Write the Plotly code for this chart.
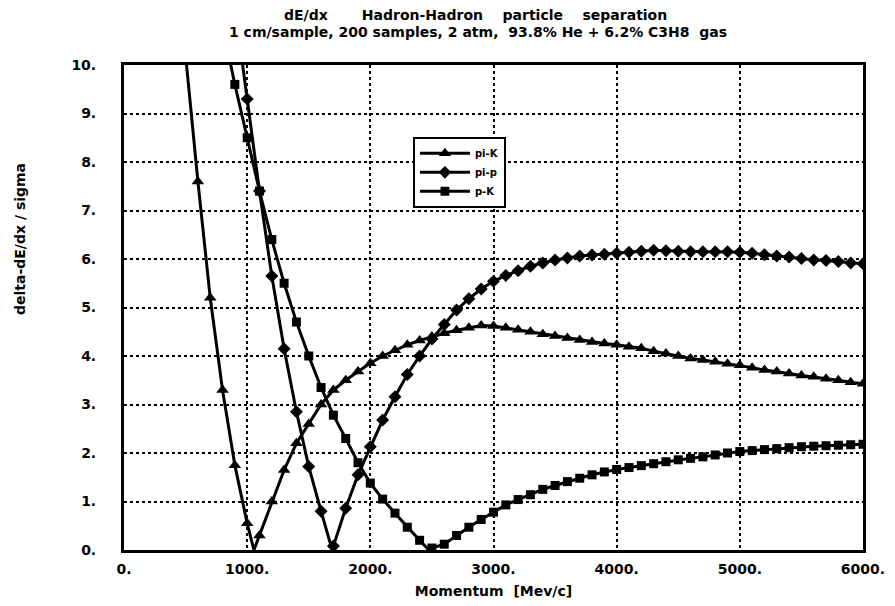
import plotly.graph_objects as go

# Momentum grid [MeV/c]; one computed point every 100 MeV/c
momentum = list(range(100, 6100, 100))

# Separation power |delta dE/dx| / sigma for each hadron pair.
# Each list starts at the first grid point given in *_start.
pi_K_start = 400
pi_K = [12.8, 10.2, 7.6, 5.2, 3.3, 1.75, 0.55, 0.3, 1.0, 1.65,
        2.2, 2.6, 3.0, 3.3, 3.5, 3.68, 3.85, 4.0, 4.12, 4.23,
        4.32, 4.4, 4.47, 4.53, 4.58, 4.63, 4.62, 4.58, 4.54, 4.5,
        4.45, 4.41, 4.37, 4.33, 4.29, 4.26, 4.23, 4.19, 4.16, 4.1,
        4.05, 4.0, 3.95, 3.92, 3.88, 3.84, 3.81, 3.76, 3.71, 3.68,
        3.64, 3.6, 3.57, 3.53, 3.5, 3.46, 3.43]

pi_p_start = 900
pi_p = [11.2, 9.3, 7.4, 5.65, 4.15, 2.85, 1.72, 0.8, 0.08, 0.86,
        1.55, 2.13, 2.68, 3.16, 3.62, 4.0, 4.35, 4.65, 4.95, 5.18,
        5.38, 5.54, 5.66, 5.76, 5.85, 5.92, 5.98, 6.02, 6.06, 6.08,
        6.1, 6.12, 6.14, 6.16, 6.18, 6.17, 6.16, 6.15, 6.15, 6.15,
        6.15, 6.14, 6.12, 6.09, 6.06, 6.04, 6.01, 5.98, 5.97, 5.95,
        5.92, 5.9]

p_K_start = 800
p_K = [10.8, 9.6, 8.5, 7.4, 6.4, 5.5, 4.7, 4.0, 3.35, 2.78,
       2.3, 1.8, 1.38, 1.05, 0.76, 0.47, 0.2, 0.04, 0.12, 0.3,
       0.47, 0.63, 0.78, 0.93, 1.04, 1.14, 1.25, 1.33, 1.41, 1.48,
       1.55, 1.61, 1.66, 1.7, 1.74, 1.78, 1.82, 1.86, 1.89, 1.92,
       1.96, 2.0, 2.03, 2.05, 2.07, 2.09, 2.11, 2.13, 2.14, 2.15,
       2.16, 2.17, 2.18]

# Momentum where the two dE/dx bands cross (separation goes to zero)
pi_K_cross = 1055
pi_p_cross = 1690
p_K_cross = 2475

series_names = ["pi-K", "pi-p", "p-K"]
series_symbols = ["triangle-up", "diamond", "square"]
series_sizes = [11, 10, 9]
series_values = [pi_K, pi_p, p_K]
series_starts = [pi_K_start, pi_p_start, p_K_start]
series_cross = [pi_K_cross, pi_p_cross, p_K_cross]

x_ticks = [0, 1000, 2000, 3000, 4000, 5000, 6000]
x_tick_text = ["0.", "1000.", "2000.", "3000.", "4000.", "5000.", "6000."]
y_ticks = list(range(0, 11))
y_tick_text = [f"{v}." for v in y_ticks]

FONT = "DejaVu Sans"
fig = go.Figure()

for name, sym, msize, vals, start, cross in zip(
        series_names, series_symbols, series_sizes,
        series_values, series_starts, series_cross):
    i0 = momentum.index(start)
    xs = momentum[i0:i0 + len(vals)]
    pts = [(x, y, msize) for x, y in zip(xs, vals)]
    # the cusp where the separation touches zero carries no marker
    pts.append((cross, 0.0, 0))
    pts.sort(key=lambda p: p[0])
    fig.add_trace(go.Scatter(
        x=[p[0] for p in pts], y=[p[1] for p in pts],
        mode="lines+markers", name=name,
        line=dict(color="black", width=3),
        marker=dict(symbol=sym, color="black", opacity=1,
                    size=[p[2] for p in pts], line=dict(width=0)),
    ))

axis_common = dict(
    showline=True, mirror=True, linecolor="black", linewidth=3,
    showgrid=True, gridcolor="black", gridwidth=1.6, griddash="dot",
    zeroline=False, ticks="", automargin=False,
    tickfont=dict(family=FONT, size=14, color="black", weight="bold"),
)

title_font = dict(family=FONT, size=14, color="black", weight="bold")
nb = "\u00a0"

fig.update_layout(
    width=895, height=606,
    margin=dict(l=124, r=32, t=65, b=56),
    paper_bgcolor="white", plot_bgcolor="white",
    showlegend=True,
    legend=dict(
        x=0.391, y=0.852, xanchor="left", yanchor="top",
        bgcolor="white", bordercolor="black", borderwidth=2,
        itemwidth=50,
        font=dict(family=FONT, size=10, color="black", weight="bold"),
    ),
    xaxis=dict(range=[0, 6000], tickvals=x_ticks, ticktext=x_tick_text,
               ticklabelstandoff=4,
               title=dict(text="Momentum" + nb * 2 + "[Mev/c]", standoff=11,
                          font=title_font),
               **axis_common),
    yaxis=dict(range=[0, 10], tickvals=y_ticks, ticktext=y_tick_text,
               ticklabelstandoff=22, **axis_common),
    annotations=[
        dict(text="dE/dx" + nb * 7 + "Hadron-Hadron" + nb * 4 + "particle"
                  + nb * 4 + "separation",
             xref="paper", yref="paper", x=(475 - 124) / 739, y=1 + (65 - 15) / 485,
             xanchor="center", yanchor="middle", showarrow=False,
             font=title_font),
        dict(text="1 cm/sample, 200 samples, 2 atm," + nb * 2
                  + "93.8% He + 6.2% C3H8" + nb * 2 + "gas",
             xref="paper", yref="paper", x=(478 - 124) / 739, y=1 + (65 - 32) / 485,
             xanchor="center", yanchor="middle", showarrow=False,
             font=title_font),
        dict(text="delta-dE/dx / sigma", textangle=-90,
             xref="paper", yref="paper", x=(20 - 124) / 739, y=(550 - 239) / 485,
             xanchor="center", yanchor="middle", showarrow=False,
             font=dict(family=FONT, size=14, color="black", weight="bold")),
    ],
)

fig.write_html("out.html")
